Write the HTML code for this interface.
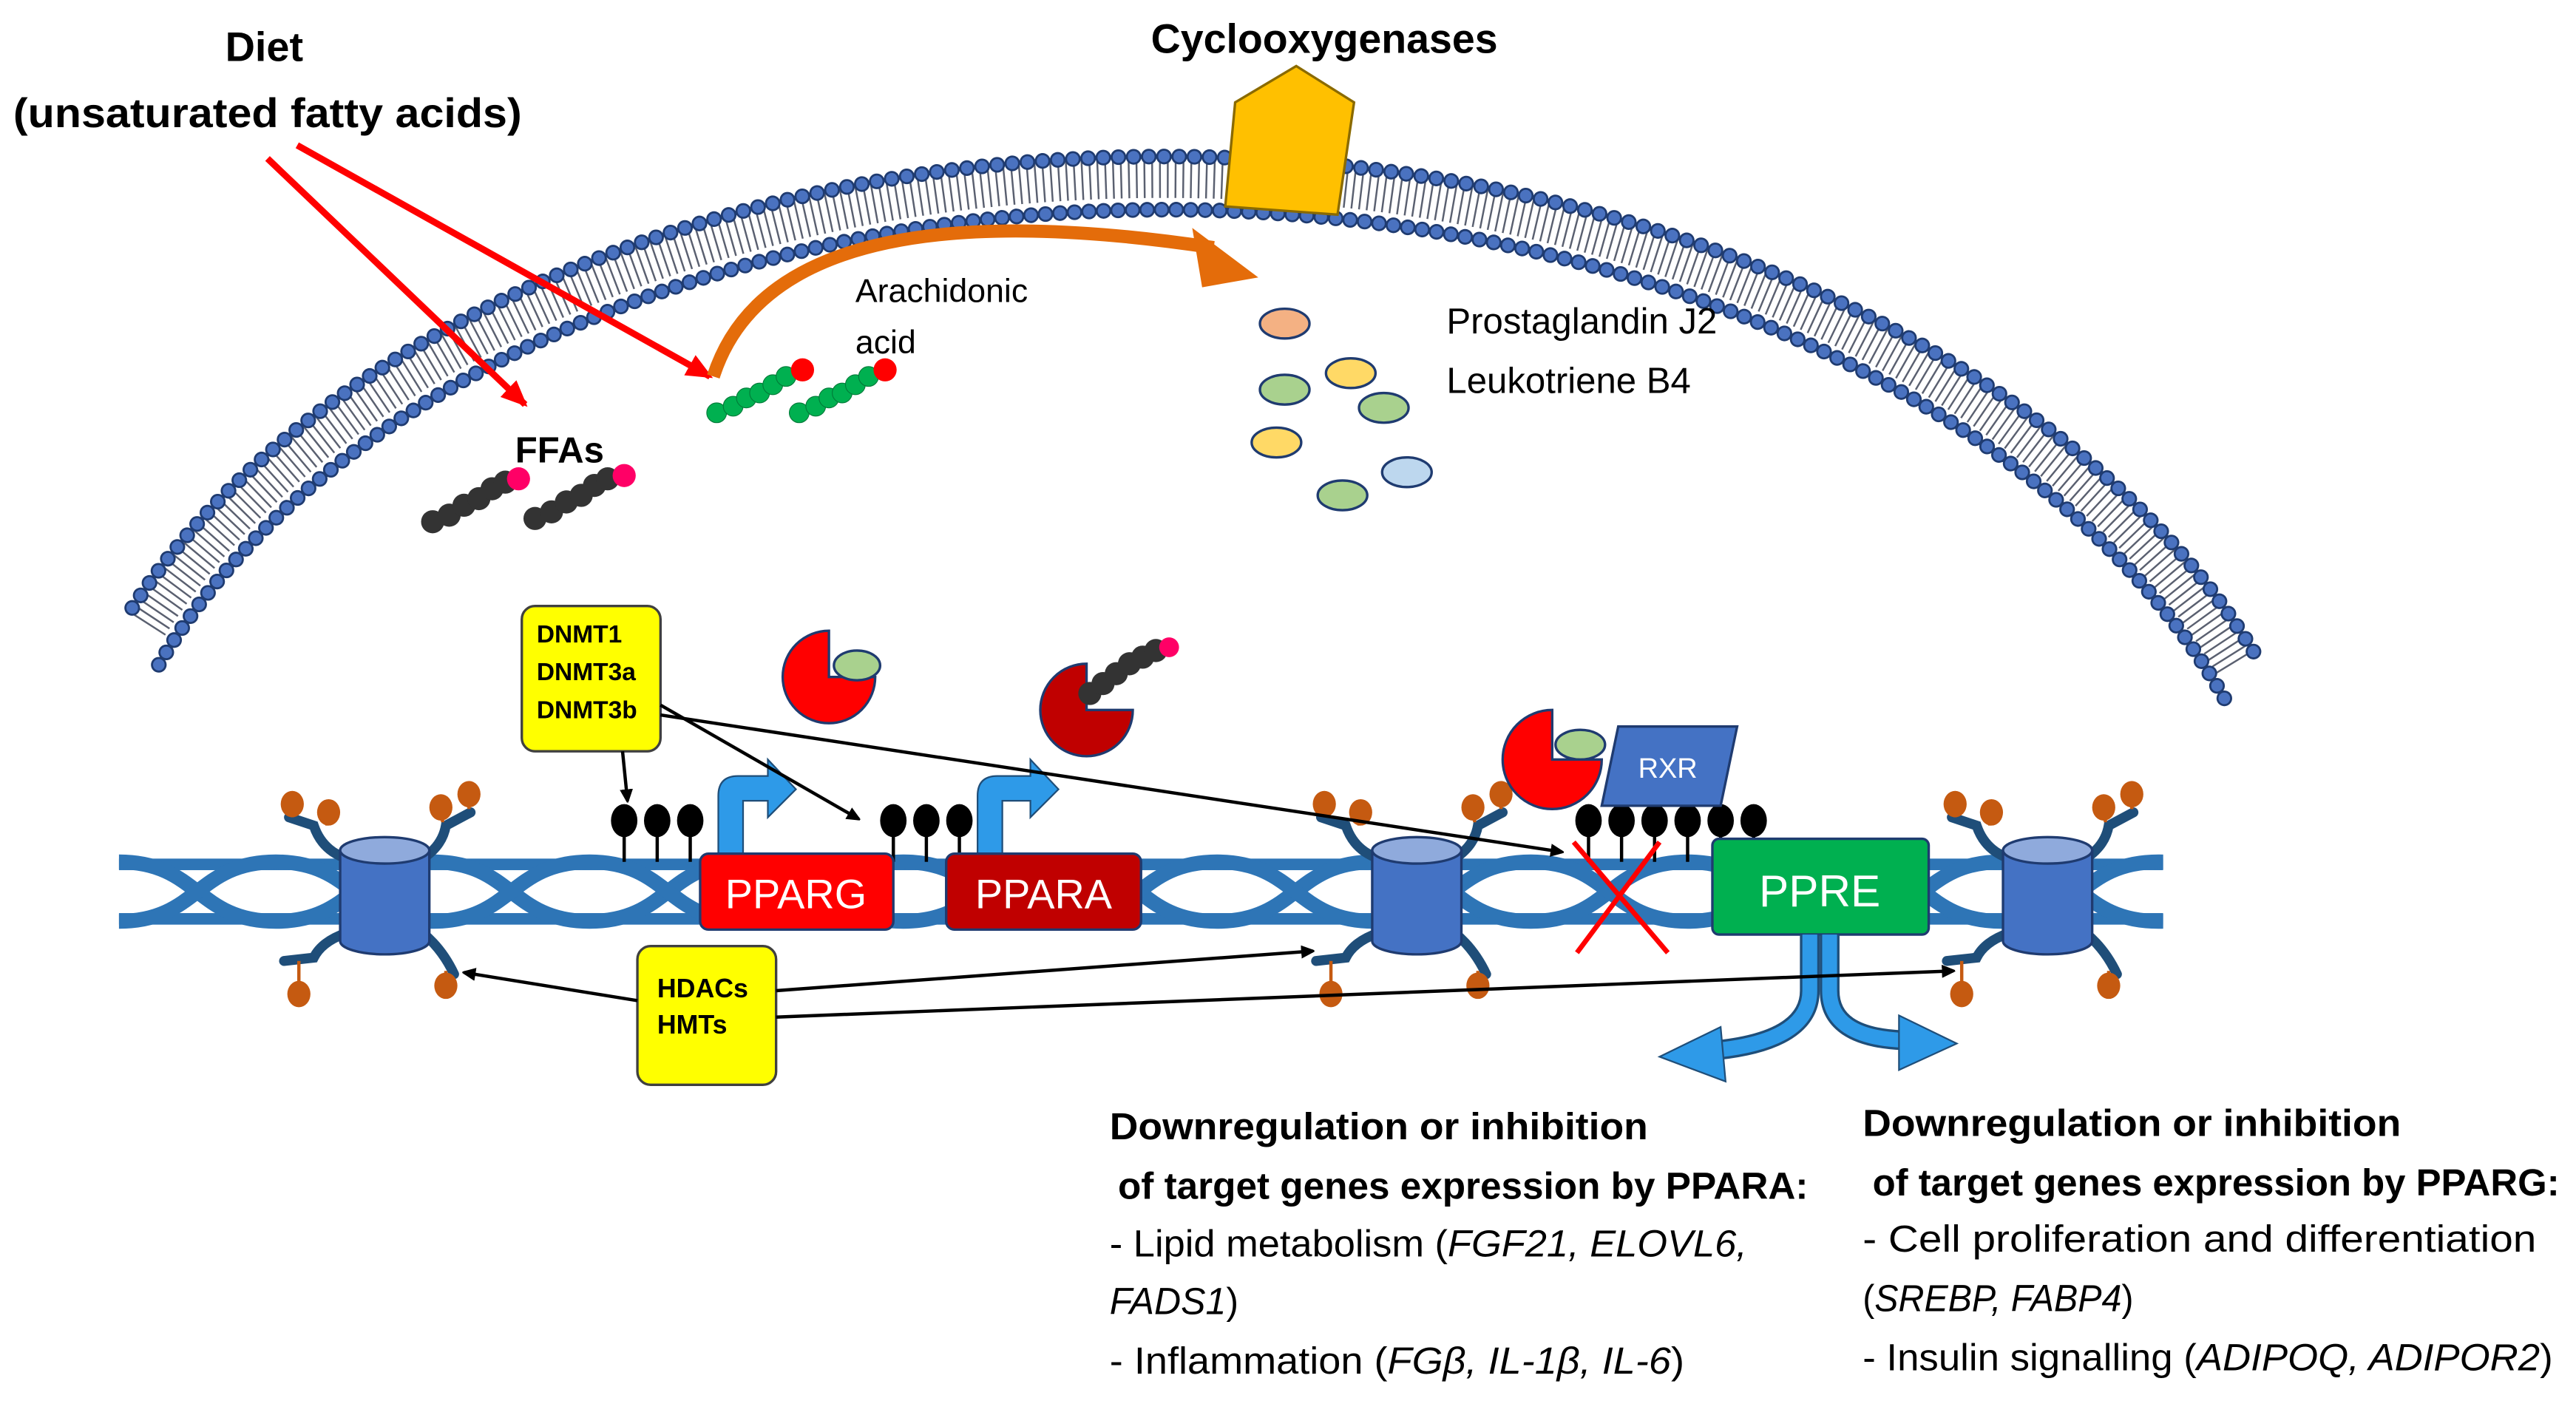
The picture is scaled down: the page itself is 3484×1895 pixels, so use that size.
<!DOCTYPE html>
<html><head><meta charset="utf-8"><style>
html,body{margin:0;padding:0;background:#fff}
svg{display:block}
text{font-family:"Liberation Sans",sans-serif}
</style></head><body>
<svg width="3484" height="1895" viewBox="0 0 1560 848.5" preserveAspectRatio="none" xmlns="http://www.w3.org/2000/svg">
<defs>
<marker id="ab" markerWidth="8" markerHeight="8" refX="7" refY="4" orient="auto" markerUnits="userSpaceOnUse"><path d="M0,0 L9,4 L0,8 Z" fill="#000"/></marker>
<marker id="ar" markerWidth="16" markerHeight="14" refX="14" refY="7" orient="auto" markerUnits="userSpaceOnUse"><path d="M0,0 L16,7 L0,14 Z" fill="#ff0000"/></marker>
<clipPath id="dc"><rect x="72" y="500" width="1238" height="80"/></clipPath>
</defs>
<rect width="1560" height="848.5" fill="#fff"/>

<!-- membrane -->
<g transform="rotate(1.5 720 570)">
<path d="M85,395 A685,460 0 0 1 1350,388" fill="none" stroke="#5a6070" stroke-width="24" stroke-dasharray="1.1 3.6"/>
<path d="M75,385 A700,475 0 0 1 1360,378" fill="none" stroke="#1f3b70" stroke-width="9.5" stroke-linecap="round" stroke-dasharray="0 9.2"/>
<path d="M75,385 A700,475 0 0 1 1360,378" fill="none" stroke="#4a72c0" stroke-width="7" stroke-linecap="round" stroke-dasharray="0 9.2"/>
<path d="M92,419 A670,445 0 0 1 1345,410" fill="none" stroke="#1f3b70" stroke-width="9.5" stroke-linecap="round" stroke-dasharray="0 8.8"/>
<path d="M92,419 A670,445 0 0 1 1345,410" fill="none" stroke="#4a72c0" stroke-width="7" stroke-linecap="round" stroke-dasharray="0 8.8"/>
</g>
<polygon points="742,125 748,62 785,40 820,62 810,130" fill="#ffc000" stroke="#8a6a00" stroke-width="1.5"/>

<!-- titles -->
<text x="160" y="37" font-size="25" font-weight="bold" text-anchor="middle">Diet</text>
<text x="162" y="77" font-size="25" font-weight="bold" text-anchor="middle" textLength="308" lengthAdjust="spacingAndGlyphs">(unsaturated fatty acids)</text>
<text x="802" y="32" font-size="25" font-weight="bold" text-anchor="middle" textLength="210" lengthAdjust="spacingAndGlyphs">Cyclooxygenases</text>

<!-- red arrows -->
<line x1="162" y1="96" x2="318" y2="245" stroke="#ff0000" stroke-width="4" marker-end="url(#ar)"/>
<line x1="180" y1="88" x2="430" y2="228" stroke="#ff0000" stroke-width="4" marker-end="url(#ar)"/>

<!-- orange curved arrow -->
<path d="M432,228 Q470,110 735,150" fill="none" stroke="#e46c0a" stroke-width="8"/>
<polygon points="722,138 762,168 728,174" fill="#e46c0a"/>

<text x="518" y="183" font-size="20">Arachidonic</text>
<text x="518" y="214" font-size="20">acid</text>
<text x="876" y="202" font-size="22">Prostaglandin J2</text>
<text x="876" y="238" font-size="22">Leukotriene B4</text>

<!-- chains -->
<g fill="#00b050" stroke="#007a38" stroke-width="0.5">
<circle cx="434" cy="250" r="6"/><circle cx="444" cy="246" r="6"/><circle cx="452" cy="241" r="6"/><circle cx="460" cy="238" r="6"/><circle cx="468" cy="233" r="6"/><circle cx="476" cy="228" r="6"/>
<circle cx="484" cy="250" r="6"/><circle cx="494" cy="246" r="6"/><circle cx="502" cy="241" r="6"/><circle cx="510" cy="238" r="6"/><circle cx="518" cy="233" r="6"/><circle cx="526" cy="228" r="6"/>
</g>
<circle cx="486" cy="224" r="7" fill="#ff0000"/><circle cx="536" cy="224" r="7" fill="#ff0000"/>
<g fill="#333">
<circle cx="262" cy="316" r="7"/><circle cx="272" cy="312" r="7"/><circle cx="281" cy="306" r="7"/><circle cx="290" cy="302" r="7"/><circle cx="298" cy="296" r="7"/><circle cx="306" cy="292" r="7"/>
<circle cx="324" cy="314" r="7"/><circle cx="334" cy="310" r="7"/><circle cx="343" cy="304" r="7"/><circle cx="352" cy="300" r="7"/><circle cx="360" cy="294" r="7"/><circle cx="368" cy="290" r="7"/>
</g>
<circle cx="314" cy="290" r="7" fill="#ff0066"/><circle cx="378" cy="288" r="7" fill="#ff0066"/>
<text x="312" y="280" font-size="22" font-weight="bold">FFAs</text>

<!-- ellipses -->
<g stroke="#1f3b70" stroke-width="1.5">
<ellipse cx="778" cy="196" rx="15" ry="9" fill="#f4b183"/>
<ellipse cx="818" cy="226" rx="15" ry="9" fill="#ffd966"/>
<ellipse cx="778" cy="236" rx="15" ry="9" fill="#a9d18e"/>
<ellipse cx="838" cy="247" rx="15" ry="9" fill="#a9d18e"/>
<ellipse cx="773" cy="268" rx="15" ry="9" fill="#ffd966"/>
<ellipse cx="852" cy="286" rx="15" ry="9" fill="#bdd7ee"/>
<ellipse cx="813" cy="300" rx="15" ry="9" fill="#a9d18e"/>
</g>

<!-- DNA -->
<g clip-path="url(#dc)">
<rect x="72" y="520" width="1238" height="7" fill="#2e75b6"/>
<rect x="72" y="553" width="1238" height="7" fill="#2e75b6"/>
<path d="M72,522 c48,0 47,36 95,36 s47,-36 95,-36 s47,36 95,36 s47,-36 95,-36 s47,36 95,36 s47,-36 95,-36 s47,36 95,36 s47,-36 95,-36 s47,36 95,36 s47,-36 95,-36 s47,36 95,36 s47,-36 95,-36 s47,36 95,36 s47,-36 95,-36" fill="none" stroke="#2e75b6" stroke-width="9"/>
<path d="M72,558 c48,0 47,-36 95,-36 s47,36 95,36 s47,-36 95,-36 s47,36 95,36 s47,-36 95,-36 s47,36 95,36 s47,-36 95,-36 s47,36 95,36 s47,-36 95,-36 s47,36 95,36 s47,-36 95,-36 s47,36 95,36 s47,-36 95,-36 s47,36 95,36" fill="none" stroke="#2e75b6" stroke-width="9"/>
</g>

<!-- nucleosomes -->
<g id="nuc">
<g stroke="#1f4e79" stroke-width="6" fill="none" stroke-linecap="round">
<path d="M210,520 Q195,515 190,500 L175,495"/><path d="M256,520 Q268,512 270,500 L285,492"/>
<path d="M210,565 Q195,570 190,580 L172,582"/><path d="M256,565 Q268,575 275,590"/>
</g>
<g stroke="#c55a11" stroke-width="2">
<line x1="177" y1="495" x2="177" y2="488"/><line x1="198" y1="500" x2="198" y2="493"/><line x1="268" y1="498" x2="268" y2="490"/><line x1="284" y1="490" x2="284" y2="482"/>
<line x1="181" y1="582" x2="181" y2="598"/><line x1="270" y1="588" x2="270" y2="592"/>
</g>
<g fill="#c55a11"><ellipse cx="177" cy="487" rx="7" ry="8"/><ellipse cx="199" cy="492" rx="7" ry="8"/><ellipse cx="267" cy="489" rx="7" ry="8"/><ellipse cx="284" cy="481" rx="7" ry="8"/><ellipse cx="181" cy="602" rx="7" ry="8"/><ellipse cx="270" cy="597" rx="7" ry="8"/></g>
<path d="M206,515 L206,570 A27,8 0 0 0 260,570 L260,515 Z" fill="#4472c4" stroke="#1f3b70" stroke-width="1.5"/>
<ellipse cx="233" cy="515" rx="27" ry="8" fill="#8faadc" stroke="#1f3b70" stroke-width="1.5"/>
</g>
<use href="#nuc" x="625"/>
<use href="#nuc" x="1007"/>

<!-- lollipops -->
<g stroke="#000" stroke-width="2">
<line x1="378" y1="497" x2="378" y2="522"/><line x1="398" y1="497" x2="398" y2="522"/><line x1="418" y1="497" x2="418" y2="522"/>
<line x1="541" y1="497" x2="541" y2="522"/><line x1="561" y1="497" x2="561" y2="522"/><line x1="581" y1="497" x2="581" y2="522"/>
<line x1="962" y1="497" x2="962" y2="522"/><line x1="982" y1="497" x2="982" y2="522"/><line x1="1002" y1="497" x2="1002" y2="522"/><line x1="1022" y1="497" x2="1022" y2="522"/><line x1="1042" y1="497" x2="1042" y2="510"/><line x1="1062" y1="497" x2="1062" y2="510"/>
</g>
<g fill="#000">
<ellipse cx="378" cy="497" rx="8" ry="10"/><ellipse cx="398" cy="497" rx="8" ry="10"/><ellipse cx="418" cy="497" rx="8" ry="10"/>
<ellipse cx="541" cy="497" rx="8" ry="10"/><ellipse cx="561" cy="497" rx="8" ry="10"/><ellipse cx="581" cy="497" rx="8" ry="10"/>
<ellipse cx="962" cy="497" rx="8" ry="10"/><ellipse cx="982" cy="497" rx="8" ry="10"/><ellipse cx="1002" cy="497" rx="8" ry="10"/><ellipse cx="1022" cy="497" rx="8" ry="10"/><ellipse cx="1042" cy="497" rx="8" ry="10"/><ellipse cx="1062" cy="497" rx="8" ry="10"/>
</g>

<!-- blue bent arrows -->
<path d="M435,518 L435,482 Q435,470 447,470 L465,470 L465,460 L482,478 L465,495 L465,485 L450,485 L450,518 Z" fill="#2e9ae8" stroke="#1f4e79" stroke-width="1"/>
<path d="M592,518 L592,482 Q592,470 604,470 L624,470 L624,460 L641,478 L624,495 L624,485 L607,485 L607,518 Z" fill="#2e9ae8" stroke="#1f4e79" stroke-width="1"/>

<!-- gene boxes -->
<rect x="424" y="517" width="117" height="46" rx="5" fill="#ff0000" stroke="#1f3b70" stroke-width="1.5"/>
<text x="482" y="550" font-size="25" fill="#fff" text-anchor="middle">PPARG</text>
<rect x="573" y="517" width="118" height="46" rx="5" fill="#c00000" stroke="#1f3b70" stroke-width="1.5"/>
<text x="632" y="550" font-size="25" fill="#fff" text-anchor="middle">PPARA</text>

<!-- red X -->
<g stroke="#ff0000" stroke-width="3"><line x1="953" y1="510" x2="1010" y2="577"/><line x1="1005" y1="510" x2="955" y2="577"/></g>

<rect x="1037" y="508" width="131" height="58" rx="4" fill="#00b050" stroke="#1f3b70" stroke-width="1.5"/>
<text x="1102" y="549" font-size="27" fill="#fff" text-anchor="middle">PPRE</text>

<!-- PPRE arrows -->
<path d="M1096,566 L1096,600 Q1096,630 1040,636" fill="none" stroke="#1f4e79" stroke-width="12"/>
<path d="M1096,566 L1096,600 Q1096,630 1040,636" fill="none" stroke="#2e9ae8" stroke-width="9"/>
<polygon points="1042,622 1005,640 1045,655" fill="#2e9ae8" stroke="#1f4e79" stroke-width="1"/>
<path d="M1108,566 L1108,600 Q1108,628 1152,630" fill="none" stroke="#1f4e79" stroke-width="12"/>
<path d="M1108,566 L1108,600 Q1108,628 1152,630" fill="none" stroke="#2e9ae8" stroke-width="9"/>
<polygon points="1150,615 1185,632 1150,648" fill="#2e9ae8" stroke="#1f4e79" stroke-width="1"/>

<!-- pacmen -->
<path d="M502,410 L502,382 A28,28 0 1 0 530,410 Z" fill="#ff0000" stroke="#1f3b70" stroke-width="1.5"/>
<ellipse cx="519" cy="403" rx="14" ry="9" fill="#a9d18e" stroke="#1f3b70" stroke-width="1.5"/>
<path d="M658,430 L658,402 A28,28 0 1 0 686,430 Z" fill="#c00000" stroke="#1f3b70" stroke-width="1.5"/>
<g fill="#333"><circle cx="660" cy="420" r="7"/><circle cx="668" cy="414" r="7"/><circle cx="676" cy="408" r="7"/><circle cx="684" cy="402" r="7"/><circle cx="692" cy="398" r="7"/><circle cx="700" cy="394" r="7"/></g>
<circle cx="708" cy="392" r="6" fill="#ff0066"/>
<polygon points="980,440 1052,440 1042,488 970,488" fill="#4472c4" stroke="#1f3b70" stroke-width="1.5"/>
<text x="1010" y="471" font-size="17" fill="#fff" text-anchor="middle">RXR</text>
<path d="M940,460 L940,430 A30,30 0 1 0 970,460 Z" fill="#ff0000" stroke="#1f3b70" stroke-width="1.5"/>
<ellipse cx="957" cy="451" rx="15" ry="9" fill="#a9d18e" stroke="#1f3b70" stroke-width="1.5"/>

<!-- yellow boxes -->
<rect x="316" y="367" width="84" height="88" rx="8" fill="#ffff00" stroke="#404040" stroke-width="1.5"/>
<text x="325" y="389" font-size="15" font-weight="bold">DNMT1</text>
<text x="325" y="412" font-size="15" font-weight="bold">DNMT3a</text>
<text x="325" y="435" font-size="15" font-weight="bold">DNMT3b</text>
<rect x="386" y="573" width="84" height="84" rx="8" fill="#ffff00" stroke="#404040" stroke-width="1.5"/>
<text x="398" y="604" font-size="16" font-weight="bold">HDACs</text>
<text x="398" y="626" font-size="16" font-weight="bold">HMTs</text>

<!-- black arrows -->
<g stroke="#000" stroke-width="2" fill="none" marker-end="url(#ab)">
<line x1="377" y1="455" x2="380" y2="485"/>
<line x1="400" y1="427" x2="520" y2="496"/>
<line x1="400" y1="433" x2="946" y2="516"/>
<line x1="386" y1="606" x2="281" y2="589"/>
<line x1="470" y1="600" x2="795" y2="576"/>
<line x1="470" y1="616" x2="1183" y2="588"/>
</g>

<!-- bottom text -->
<g font-size="23">
<text x="672" y="690" font-weight="bold" textLength="326" lengthAdjust="spacingAndGlyphs">Downregulation or inhibition</text>
<text x="677" y="726" font-weight="bold" textLength="418" lengthAdjust="spacingAndGlyphs">of target genes expression by PPARA:</text>
<text x="672" y="761" textLength="386" lengthAdjust="spacingAndGlyphs">- Lipid metabolism (<tspan font-style="italic">FGF21, ELOVL6,</tspan></text>
<text x="672" y="796" textLength="78" lengthAdjust="spacingAndGlyphs"><tspan font-style="italic">FADS1</tspan>)</text>
<text x="672" y="832" textLength="348" lengthAdjust="spacingAndGlyphs">- Inflammation (<tspan font-style="italic">FGβ, IL-1β, IL-6</tspan>)</text>
<text x="1128" y="688" font-weight="bold" textLength="326" lengthAdjust="spacingAndGlyphs">Downregulation or inhibition</text>
<text x="1134" y="724" font-weight="bold" textLength="416" lengthAdjust="spacingAndGlyphs">of target genes expression by PPARG:</text>
<text x="1128" y="758" textLength="408" lengthAdjust="spacingAndGlyphs">- Cell proliferation and differentiation</text>
<text x="1128" y="794" textLength="164" lengthAdjust="spacingAndGlyphs">(<tspan font-style="italic">SREBP, FABP4</tspan>)</text>
<text x="1128" y="830" textLength="418" lengthAdjust="spacingAndGlyphs">- Insulin signalling (<tspan font-style="italic">ADIPOQ, ADIPOR2</tspan>)</text>
</g>
</svg>
</body></html>
